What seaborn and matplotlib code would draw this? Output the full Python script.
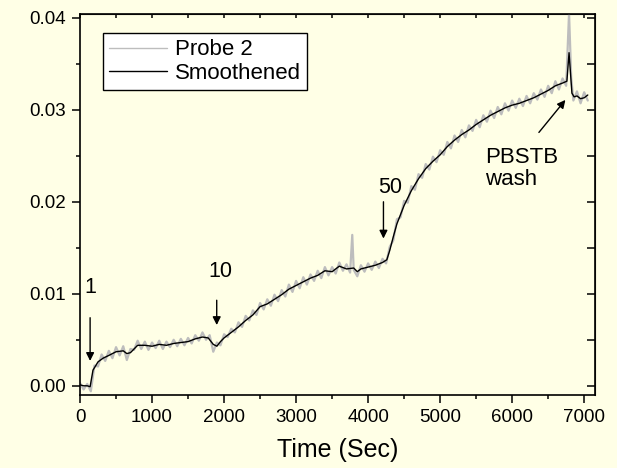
import numpy as np
import pandas as pd
import seaborn as sns
import matplotlib.pyplot as plt
from matplotlib.ticker import MultipleLocator

# raw probe signal (every 50 s, plus the two spikes)
raw_time = [0, 50, 100, 150, 200, 250, 300, 350, 400, 450, 500, 550, 600, 650, 700, 750,
            800, 850, 900, 950, 1000, 1050, 1100, 1150, 1200, 1250, 1300, 1350, 1400, 1450,
            1500, 1550, 1600, 1650, 1700, 1750, 1800, 1850, 1900, 1950, 2000, 2050, 2100,
            2150, 2200, 2250, 2300, 2350, 2400, 2450, 2500, 2550, 2600, 2650, 2700, 2750,
            2800, 2850, 2900, 2950, 3000, 3050, 3100, 3150, 3200, 3250, 3300, 3350, 3400,
            3450, 3500, 3550, 3600, 3650, 3700, 3750, 3780, 3800, 3850, 3900, 3950, 4000,
            4050, 4100, 4150, 4200, 4250, 4300, 4350, 4400, 4450, 4500, 4550, 4600, 4650,
            4700, 4750, 4800, 4850, 4900, 4950, 5000, 5050, 5100, 5150, 5200, 5250, 5300,
            5350, 5400, 5450, 5500, 5550, 5600, 5650, 5700, 5750, 5800, 5850, 5900, 5950,
            6000, 6050, 6100, 6150, 6200, 6250, 6300, 6350, 6400, 6450, 6500, 6550, 6600,
            6650, 6700, 6750, 6790, 6820, 6850, 6900, 6950, 7000, 7050]
raw_signal = [0.0003, -0.0004, 0.0002, -0.0006, 0.0022, 0.0021, 0.0034, 0.0027, 0.0038,
              0.0030, 0.0042, 0.0033, 0.0043, 0.0028, 0.0040, 0.0039, 0.0049, 0.0040,
              0.0048, 0.0039, 0.0047, 0.0041, 0.0049, 0.0040, 0.0048, 0.0042, 0.0050,
              0.0043, 0.0051, 0.0044, 0.0052, 0.0046, 0.0055, 0.0049, 0.0058, 0.0050,
              0.0055, 0.0037, 0.0047, 0.0044, 0.0056, 0.0053, 0.0062, 0.0058, 0.0069,
              0.0064, 0.0076, 0.0071, 0.0082, 0.0077, 0.0090, 0.0083, 0.0094, 0.0087,
              0.0099, 0.0092, 0.0104, 0.0097, 0.0110, 0.0102, 0.0114, 0.0106, 0.0118,
              0.0110, 0.0121, 0.0114, 0.0125, 0.0117, 0.0129, 0.0120, 0.0129, 0.0122,
              0.0134, 0.0125, 0.0132, 0.0123, 0.0164, 0.0126, 0.0119, 0.0131, 0.0124,
              0.0133, 0.0126, 0.0135, 0.0128, 0.0138, 0.0133, 0.0151, 0.0158, 0.0181,
              0.0183, 0.0201, 0.0199, 0.0217, 0.0213, 0.0230, 0.0226, 0.0241, 0.0235,
              0.0249, 0.0243, 0.0256, 0.0251, 0.0265, 0.0258, 0.0272, 0.0265, 0.0278,
              0.0270, 0.0283, 0.0277, 0.0289, 0.0281, 0.0294, 0.0287, 0.0299, 0.0291,
              0.0303, 0.0295, 0.0307, 0.0299, 0.0310, 0.0302, 0.0312, 0.0304, 0.0315,
              0.0307, 0.0318, 0.0311, 0.0322, 0.0314, 0.0326, 0.0318, 0.0331, 0.0322,
              0.0334, 0.0326, 0.0405, 0.0335, 0.0310, 0.0320, 0.0307, 0.0319, 0.0310]

# smoothed trace
smooth_time = [0, 50, 100, 140, 180, 250, 320, 400, 500, 600, 650, 700, 800, 900, 1000,
               1100, 1200, 1300, 1400, 1500, 1600, 1700, 1780, 1850, 1900, 1950, 2000,
               2100, 2200, 2300, 2400, 2500, 2600, 2700, 2800, 2900, 3000, 3100, 3200,
               3300, 3400, 3500, 3600, 3700, 3800, 3850, 3900, 4000, 4100, 4200, 4260,
               4300, 4350, 4400, 4500, 4600, 4700, 4800, 4900, 5000, 5100, 5200, 5300,
               5400, 5500, 5600, 5700, 5800, 5900, 6000, 6100, 6200, 6300, 6400, 6500,
               6600, 6700, 6760, 6790, 6830, 6860, 6900, 6950, 7000, 7050]
smooth_signal = [0.0001, 0.0000, 0.0000, -0.0001, 0.0017, 0.0026, 0.0030, 0.0033, 0.0037,
                 0.0038, 0.0035, 0.0036, 0.0044, 0.0044, 0.0043, 0.0045, 0.0044, 0.0046,
                 0.0047, 0.0048, 0.0051, 0.0053, 0.0052, 0.0045, 0.0043, 0.0048, 0.0052,
                 0.0058, 0.0064, 0.0071, 0.0077, 0.0086, 0.0089, 0.0094, 0.0099, 0.0105,
                 0.0109, 0.0113, 0.0117, 0.0120, 0.0125, 0.0124, 0.0130, 0.0127, 0.0128,
                 0.0124, 0.0127, 0.0129, 0.0131, 0.0134, 0.0137, 0.0147, 0.0162, 0.0176,
                 0.0196, 0.0212, 0.0225, 0.0236, 0.0244, 0.0251, 0.0260, 0.0267, 0.0273,
                 0.0278, 0.0284, 0.0289, 0.0294, 0.0298, 0.0302, 0.0305, 0.0307, 0.0310,
                 0.0313, 0.0317, 0.0321, 0.0326, 0.0329, 0.0331, 0.0362, 0.0318, 0.0314,
                 0.0315, 0.0312, 0.0313, 0.0316]

bg = "#FFFFE6"
sns.set_style("ticks")
plt.rcParams["font.family"] = ["Liberation Sans", "DejaVu Sans"]
plt.rcParams["text.color"] = "black"
plt.rcParams["xtick.color"] = "black"
plt.rcParams["ytick.color"] = "black"
plt.rcParams["axes.labelcolor"] = "black"

raw = pd.DataFrame({"t": raw_time, "v": raw_signal})
smooth = pd.DataFrame({"t": smooth_time, "v": smooth_signal})

fig = plt.figure(figsize=(6.17, 4.68), dpi=100, facecolor=bg)
ax = fig.add_axes([0.1297, 0.156, 0.8346, 0.814])
ax.set_facecolor(bg)

sns.lineplot(data=raw, x="t", y="v", ax=ax, color="#BDBDBD", lw=1.6, label="Probe 2")
sns.lineplot(data=smooth, x="t", y="v", ax=ax, color="black", lw=1.0, label="Smoothened")

ax.set_xlim(0, 7150)
ax.set_ylim(-0.001, 0.0404)
ax.xaxis.set_major_locator(MultipleLocator(1000))
ax.xaxis.set_minor_locator(MultipleLocator(500))
ax.yaxis.set_minor_locator(MultipleLocator(0.005))
ax.set_yticks([0, 0.01, 0.02, 0.03, 0.04])
ax.set_yticklabels(["0.00", "0.01", "0.02", "0.03", "0.04"])

for s in ax.spines.values():
    s.set_color("black")
    s.set_linewidth(1.2)

ax.tick_params(which="both", direction="out", color="black", labelcolor="black",
               labelsize=13.5, top=False, right=False)
ax.tick_params(which="major", length=6, width=1.1, pad=4)
ax.tick_params(which="minor", length=3, width=1.1)

# mirrored inward ticks on top and right
sec_x = ax.secondary_xaxis("top")
sec_x.xaxis.set_major_locator(MultipleLocator(500))
sec_x.tick_params(direction="in", length=3, width=1.1, labeltop=False)
sec_y = ax.secondary_yaxis("right")
sec_y.yaxis.set_major_locator(MultipleLocator(0.005))
sec_y.tick_params(direction="in", length=6, width=1.1, labelright=False)

ax.set_xlabel("Time (Sec)", fontsize=18, labelpad=9, color="black")
ax.set_ylabel("")

arrow = dict(arrowstyle="-|>", color="black", lw=1.0, mutation_scale=12)
ax.annotate("", xy=(140, 0.0024), xytext=(140, 0.0077), arrowprops=arrow)
ax.text(140, 0.0107, "1", ha="center", va="center", fontsize=15.5)
ax.annotate("", xy=(1898, 0.0063), xytext=(1898, 0.0096), arrowprops=arrow)
ax.text(1944, 0.0124, "10", ha="center", va="center", fontsize=15.5)
ax.annotate("", xy=(4213, 0.0157), xytext=(4213, 0.0203), arrowprops=arrow)
ax.text(4305, 0.0215, "50", ha="center", va="center", fontsize=15.5)
ax.annotate("", xy=(6764, 0.0313), xytext=(6347, 0.0273), arrowprops=arrow)
ax.text(5625, 0.0236, "PBSTB\nwash", ha="left", va="center", fontsize=16,
        linespacing=1.05)

leg = ax.legend(loc="upper left", bbox_to_anchor=(0.0447, 0.95), borderaxespad=0,
                fontsize=16, frameon=True, fancybox=False, edgecolor="black",
                facecolor="white", framealpha=1, handlelength=2.6, handletextpad=0.35,
                labelspacing=0.12, borderpad=0.28)
leg.get_frame().set_linewidth(1.0)
leg.get_lines()[0].set_linewidth(1.0)
for t in leg.get_texts():
    t.set_color("black")

fig.savefig("out.png", dpi=100, facecolor=bg)
